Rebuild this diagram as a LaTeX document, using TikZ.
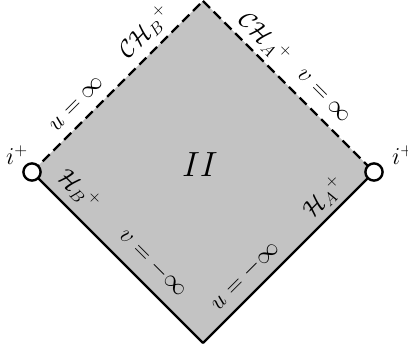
\documentclass[tikz,border=0pt]{standalone}
\usepackage{tikz}
\usetikzlibrary{positioning,calc}
\definecolor{regiongray}{RGB}{195,195,195}

\begin{document}
\begin{tikzpicture}[x=0.025cm,y=0.025cm,
    horizon/.style={line width=1.7pt},
    cauchy/.style={line width=1.7pt,dash pattern=on 7pt off 3.8pt},
    endpoint/.style={circle,draw,fill=white,line width=1.7pt,minimum size=0.43cm,inner sep=0pt},
    lbl/.style={font=\fontsize{18}{22}\selectfont,inner sep=0pt}]
      \useasboundingbox (-203,-184) rectangle (205,172);
      \coordinate (left) at (-171,0);
      \coordinate (right) at (171,0);
      \coordinate (top) at (0,171);
      \coordinate (bottom) at (0,-171);
      \fill[regiongray] (left)--(top)--(right)--(bottom)--cycle;
      \draw[cauchy] (left)--(top)
        node[lbl,pos=0.33,sloped,above=7pt] (uinf) {$u=\infty$}
        node[lbl,pos=0.74,sloped,above=4.5pt] (chb) {$\mathcal{CH}_B{}^+$};
      \draw[cauchy] (top)--(right)
        node[lbl,pos=0.29,sloped,above=3.5pt] (cha) {$\mathcal{CH}_A{}^+$}
        node[lbl,pos=0.63,sloped,above=8.5pt] (vinf) {$v=\infty$};
      \draw[horizon] (left)--(bottom)
        node[lbl,pos=0.19,sloped,above=5.5pt] (hb) {$\mathcal{H}_B{}^+$}
        node[lbl,pos=0.62,sloped,above=8.5pt] (vminf) {$v=-\infty$};
      \draw[horizon] (bottom)--(right)
        node[lbl,pos=0.32,sloped,above=6pt] (uminf) {$u=-\infty$}
        node[lbl,pos=0.78,sloped,above=3.5pt] (ha) {$\mathcal{H}_A{}^+$};
      \node[endpoint] (iL) at (left) {};
      \node[endpoint] (iR) at (right) {};
      \node[lbl] (iLlabel) at ($(iL)+(-15,17)$) {$i^+$};
      \node[lbl] (iRlabel) at ($(iR)+(29,17)$) {$i^+$};
      \node[font=\fontsize{23}{27}\selectfont] (region) at (-3,7) {$II$};
    \end{tikzpicture}
\end{document}
